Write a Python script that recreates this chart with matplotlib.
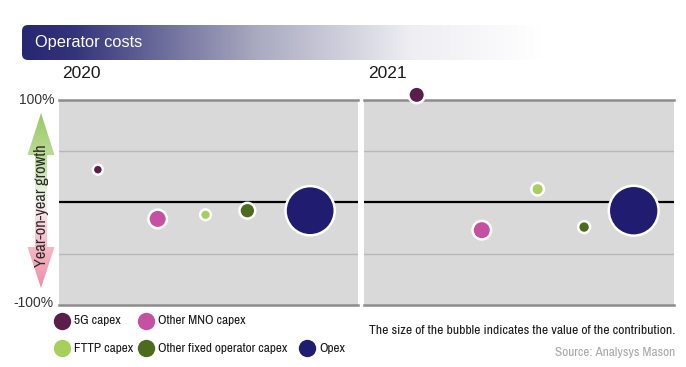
import numpy as np
import matplotlib
matplotlib.use("Agg")
import matplotlib.pyplot as plt
from matplotlib.path import Path
from matplotlib.patches import PathPatch, FancyBboxPatch
from matplotlib.colors import LinearSegmentedColormap

NARROW = ['Archivo Narrow', 'Roboto Condensed', 'DejaVu Sans']
WIDE = ['Liberation Sans', 'DejaVu Sans']
plt.rcParams['font.family'] = NARROW

# data
categories = ['5G capex', 'Other MNO capex', 'FTTP capex',
              'Other fixed operator capex', 'Opex']
colors = ['#5a1e4a', '#c651a2', '#a6cf5c', '#4d6b1f', '#201c70']
years = ['2020', '2021']
growth_2020 = [32, -16, -12, -8, -8]
growth_2021 = [105, -27, 13, -24, -8]
contrib_2020 = [14, 64, 17, 44, 545]
contrib_2021 = [49, 64, 25, 22, 560]
x_2020 = [1.3, 3.3, 4.9, 6.3, 8.4]
x_2021 = [1.7, 3.8, 5.6, 7.1, 8.7]

W, H = 686, 367
fig = plt.figure(figsize=(W / 100, H / 100), dpi=100)


def px_box(x0, y0, x1, y1):
    # pixel box (y down) -> figure fraction rect
    return [x0 / W, 1 - y1 / H, (x1 - x0) / W, (y1 - y0) / H]


def bubble_size(c):
    r = np.sqrt(np.asarray(c, dtype=float)) + 1.25
    return (1.44 * r) ** 2


panels = [
    (px_box(59, 100, 358, 305), growth_2020, contrib_2020, x_2020),
    (px_box(364, 100, 674, 305), growth_2021, contrib_2021, x_2021),
]

for rect, growth, contrib, xs in panels:
    ax = fig.add_axes(rect)
    ax.set_facecolor('#d9d9d9')
    ax.set_xlim(0, 10)
    ax.set_ylim(-100, 100)
    for v in (50, -50):
        ax.axhline(v, color='#b8b8b8', lw=1.0, zorder=1)
    for v in (100, -100):
        ax.axhline(v, color='#8c8c8c', lw=1.8, zorder=1, clip_on=False)
    ax.axhline(0, color='black', lw=1.6, zorder=2)
    ax.scatter(xs, growth, s=bubble_size(contrib), c=colors,
               edgecolors='white', linewidths=1.8, zorder=3, clip_on=False)
    ax.set_xticks([])
    ax.set_yticks([])
    for sp in ax.spines.values():
        sp.set_visible(False)

# overlay for header, labels, arrow and legend
ov = fig.add_axes([0, 0, 1, 1])
ov.set_xlim(0, W)
ov.set_ylim(H, 0)
ov.axis('off')
ov.patch.set_alpha(0)

# header bar with gradient
bar = FancyBboxPatch((22, 25), 520, 35, boxstyle='round,pad=0,rounding_size=6',
                     facecolor='none', edgecolor='none')
ov.add_patch(bar)
grad_cmap = LinearSegmentedColormap.from_list(
    'hdr', [(0, '#272671'), (0.1, '#34347b'), (0.45, '#a9a9c0'),
            (0.75, '#eeeef3'), (1, '#ffffff')])
g = np.linspace(0, 1, 256).reshape(1, -1)
im = ov.imshow(g, extent=(22, 542, 60, 25), cmap=grad_cmap, aspect='auto', zorder=1)
im.set_clip_path(bar)
ov.text(35, 43, 'Operator costs', color='white', fontsize=11.8, family=WIDE,
        va='center', ha='left', zorder=2)

ov.text(62, 74, years[0], fontsize=12.5, family=WIDE, va='center', ha='left', color='#1a1a1a')
ov.text(368, 74, years[1], fontsize=12.5, family=WIDE, va='center', ha='left', color='#1a1a1a')

ov.text(54, 100, '100%', fontsize=10, family=WIDE, ha='right', va='center', color='#333333')
ov.text(54, 303, '-100%', fontsize=10, family=WIDE, ha='right', va='center', color='#333333')

# double arrow with green/pink gradient
cx = 41
verts = [(cx, 113), (cx + 13.5, 155), (cx + 6, 155), (cx + 6, 247),
         (cx + 13.5, 247), (cx, 288), (cx - 13.5, 247), (cx - 6, 247),
         (cx - 6, 155), (cx - 13.5, 155), (cx, 113)]
arrow = PathPatch(Path(verts, closed=True), facecolor='none', edgecolor='none')
ov.add_patch(arrow)
arr_cmap = LinearSegmentedColormap.from_list(
    'arr', [(0, '#98c865'), (0.3, '#c3dfa2'), (0.48, '#f1f6ea'),
            (0.56, '#fbe4e9'), (0.78, '#f5b5c4'), (1, '#ee8ea6')])
ga = np.linspace(0, 1, 256).reshape(-1, 1)
ima = ov.imshow(ga, extent=(cx - 14, cx + 14, 288, 113), cmap=arr_cmap,
                aspect='auto', zorder=1)
ima.set_clip_path(arrow)
ov.text(cx + 0.5, 206, 'Year-on-year growth', rotation=90, fontsize=11.8,
        ha='center', va='center', color='#2a2a2a', zorder=2)

# legend
legend_pos = [(62, 321), (146, 321), (62, 348), (146, 348), (307, 348)]
for (lx, ly), name, col in zip(legend_pos, categories, colors):
    ov.plot(lx, ly, 'o', ms=12.5, color=col, mec='none')
    ov.text(lx + 12, ly, name, fontsize=9.6, va='center', ha='left', color='#1a1a1a')

ov.text(675, 330, 'The size of the bubble indicates the value of the contribution.',
        fontsize=9.8, ha='right', va='center', color='#1a1a1a')
ov.text(675, 353, 'Source: Analysys Mason', fontsize=9.6, ha='right', va='center',
        color='#a8a8a8')

fig.savefig('out.png', dpi=100)
